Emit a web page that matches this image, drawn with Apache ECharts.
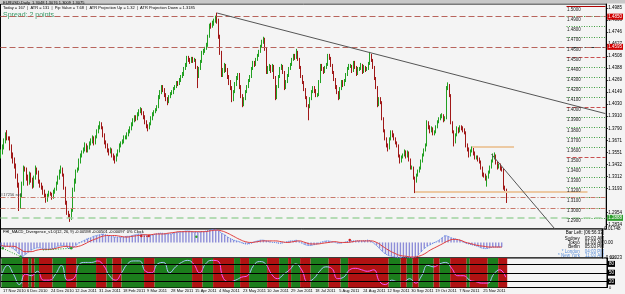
<!DOCTYPE html>
<html><head><meta charset="utf-8">
<script src="https://cdn.jsdelivr.net/npm/echarts@6/dist/echarts.min.js"></script>
<style>html,body{margin:0;padding:0;background:#f4f4f4}#c{width:625px;height:294px}</style>
</head><body><div id="c"></div>
<script>
// ---------- DATA ----------
const dateLabels = ['17 Nov 2010','6 Dec 2010','24 Dec 2010','12 Jan 2011','31 Jan 2011','18 Feb 2011','9 Mar 2011','28 Mar 2011','15 Apr 2011','4 May 2011','23 May 2011','10 Jun 2011','29 Jun 2011','18 Jul 2011','5 Aug 2011','24 Aug 2011','12 Sep 2011','30 Sep 2011','19 Oct 2011','7 Nov 2011','25 Nov 2011'];
const dateLabelFirstBar = 1, dateLabelEvery = 16, slotCount = 404;

const priceOpen = [1.3520,1.3550,1.3600,1.3660,1.3720,1.3700,1.3690,1.3600,1.3520,1.3480,
1.3420,1.3320,1.3230,1.3010,1.3120,1.3240,1.3400,1.3380,1.3300,1.3250,
1.3330,1.3280,1.3220,1.3300,1.3390,1.3350,1.3260,1.3230,1.3200,1.3160,
1.3120,1.3070,1.3120,1.3150,1.3130,1.3100,1.3160,1.3180,1.3240,1.3300,
1.3360,1.3390,1.3330,1.3200,1.3050,1.2950,1.2920,1.2890,1.2970,1.3180,
1.3260,1.3360,1.3380,1.3460,1.3520,1.3550,1.3580,1.3620,1.3570,1.3600,
1.3640,1.3660,1.3690,1.3650,1.3700,1.3760,1.3800,1.3840,1.3800,1.3720,
1.3650,1.3620,1.3570,1.3550,1.3580,1.3520,1.3500,1.3470,1.3520,1.3560,
1.3620,1.3640,1.3660,1.3700,1.3700,1.3730,1.3760,1.3790,1.3830,1.3870,
1.3900,1.3880,1.3930,1.3960,1.3970,1.3940,1.3900,1.3850,1.3810,1.3790,
1.3830,1.3890,1.3930,1.3950,1.3970,1.4000,1.4100,1.4150,1.4200,1.4170,
1.4120,1.4080,1.4050,1.4100,1.4130,1.4150,1.4180,1.4200,1.4240,1.4230,
1.4270,1.4300,1.4320,1.4380,1.4420,1.4490,1.4470,1.4450,1.4480,1.4460,
1.4470,1.4400,1.4300,1.4380,1.4450,1.4540,1.4560,1.4580,1.4610,1.4700,
1.4810,1.4800,1.4830,1.4850,1.4880,1.4860,1.4700,1.4540,1.4320,1.4360,
1.4410,1.4370,1.4300,1.4250,1.4190,1.4070,1.4150,1.4230,1.4290,1.4320,
1.4200,1.4110,1.4020,1.4080,1.4150,1.4200,1.4260,1.4300,1.4380,1.4440,
1.4420,1.4470,1.4510,1.4550,1.4600,1.4650,1.4680,1.4580,1.4350,1.4380,
1.4400,1.4360,1.4410,1.4300,1.4090,1.4200,1.4300,1.4380,1.4410,1.4350,
1.4190,1.4250,1.4310,1.4380,1.4420,1.4470,1.4510,1.4490,1.4540,1.4480,
1.4400,1.4310,1.4250,1.4180,1.4100,1.4020,1.4000,1.4080,1.4150,1.4190,
1.4160,1.4120,1.4120,1.4250,1.4410,1.4380,1.4350,1.4390,1.4420,1.4510,
1.4490,1.4420,1.4350,1.4280,1.4200,1.4150,1.4090,1.4180,1.4250,1.4220,
1.4260,1.4320,1.4380,1.4410,1.4410,1.4360,1.4440,1.4400,1.4330,1.4380,
1.4380,1.4420,1.4350,1.4400,1.4370,1.4380,1.4430,1.4510,1.4470,1.4400,
1.4290,1.4200,1.4020,1.4080,1.4050,1.3890,1.3770,1.3690,1.3620,1.3590,
1.3680,1.3750,1.3720,1.3690,1.3650,1.3620,1.3520,1.3460,1.3500,1.3520,
1.3560,1.3510,1.3550,1.3480,1.3400,1.3400,1.3300,1.3260,1.3320,1.3360,
1.3390,1.3460,1.3520,1.3570,1.3620,1.3850,1.3800,1.3760,1.3790,1.3740,
1.3750,1.3800,1.3850,1.3880,1.3910,1.3920,1.3870,1.3890,1.4190,1.4220,
1.4120,1.3850,1.3760,1.3650,1.3720,1.3790,1.3760,1.3800,1.3790,1.3770,
1.3750,1.3620,1.3580,1.3520,1.3560,1.3590,1.3540,1.3500,1.3500,1.3480,
1.3460,1.3400,1.3330,1.3320,1.3300,1.3300,1.3350,1.3400,1.3460,1.3500,
1.3520,1.3450,1.3400,1.3420,1.3390,1.3380,1.3200,1.3180];

const priceClose = [1.3550,1.3600,1.3660,1.3720,1.3700,1.3690,1.3600,1.3520,1.3480,1.3420,
1.3320,1.3230,1.3010,1.3120,1.3240,1.3400,1.3380,1.3300,1.3250,1.3330,
1.3280,1.3220,1.3300,1.3390,1.3350,1.3260,1.3230,1.3200,1.3160,1.3120,
1.3070,1.3120,1.3150,1.3130,1.3100,1.3160,1.3180,1.3240,1.3300,1.3360,
1.3390,1.3330,1.3200,1.3050,1.2950,1.2920,1.2890,1.2970,1.3180,1.3260,
1.3360,1.3380,1.3460,1.3520,1.3550,1.3580,1.3620,1.3570,1.3600,1.3640,
1.3660,1.3690,1.3650,1.3700,1.3760,1.3800,1.3840,1.3800,1.3720,1.3650,
1.3620,1.3570,1.3550,1.3580,1.3520,1.3500,1.3470,1.3520,1.3560,1.3620,
1.3640,1.3660,1.3700,1.3700,1.3730,1.3760,1.3790,1.3830,1.3870,1.3900,
1.3880,1.3930,1.3960,1.3970,1.3940,1.3900,1.3850,1.3810,1.3790,1.3830,
1.3890,1.3930,1.3950,1.3970,1.4000,1.4100,1.4150,1.4200,1.4170,1.4120,
1.4080,1.4050,1.4100,1.4130,1.4150,1.4180,1.4200,1.4240,1.4230,1.4270,
1.4300,1.4320,1.4380,1.4420,1.4490,1.4470,1.4450,1.4480,1.4460,1.4470,
1.4400,1.4300,1.4380,1.4450,1.4540,1.4560,1.4580,1.4610,1.4700,1.4810,
1.4800,1.4830,1.4850,1.4880,1.4860,1.4700,1.4540,1.4320,1.4360,1.4410,
1.4370,1.4300,1.4250,1.4190,1.4070,1.4150,1.4230,1.4290,1.4320,1.4200,
1.4110,1.4020,1.4080,1.4150,1.4200,1.4260,1.4300,1.4380,1.4440,1.4420,
1.4470,1.4510,1.4550,1.4600,1.4650,1.4680,1.4580,1.4350,1.4380,1.4400,
1.4360,1.4410,1.4300,1.4090,1.4200,1.4300,1.4380,1.4410,1.4350,1.4190,
1.4250,1.4310,1.4380,1.4420,1.4470,1.4510,1.4490,1.4540,1.4480,1.4400,
1.4310,1.4250,1.4180,1.4100,1.4020,1.4000,1.4080,1.4150,1.4190,1.4160,
1.4120,1.4120,1.4250,1.4410,1.4380,1.4350,1.4390,1.4420,1.4510,1.4490,
1.4420,1.4350,1.4280,1.4200,1.4150,1.4090,1.4180,1.4250,1.4220,1.4260,
1.4320,1.4380,1.4410,1.4410,1.4360,1.4440,1.4400,1.4330,1.4380,1.4380,
1.4420,1.4350,1.4400,1.4370,1.4380,1.4430,1.4510,1.4470,1.4400,1.4290,
1.4200,1.4020,1.4080,1.4050,1.3890,1.3770,1.3690,1.3620,1.3590,1.3680,
1.3750,1.3720,1.3690,1.3650,1.3620,1.3520,1.3460,1.3500,1.3520,1.3560,
1.3510,1.3550,1.3480,1.3400,1.3400,1.3300,1.3260,1.3320,1.3360,1.3390,
1.3460,1.3520,1.3570,1.3620,1.3850,1.3800,1.3760,1.3790,1.3740,1.3750,
1.3800,1.3850,1.3880,1.3910,1.3920,1.3870,1.3890,1.4190,1.4220,1.4120,
1.3850,1.3760,1.3650,1.3720,1.3790,1.3760,1.3800,1.3790,1.3770,1.3750,
1.3620,1.3580,1.3520,1.3560,1.3590,1.3540,1.3500,1.3500,1.3480,1.3460,
1.3400,1.3330,1.3320,1.3300,1.3300,1.3350,1.3400,1.3460,1.3500,1.3520,
1.3450,1.3400,1.3420,1.3390,1.3380,1.3200,1.3180,1.3075];

const priceLow = [1.3490,1.3530,1.3580,1.3640,1.3670,1.3670,1.3570,1.3490,1.3440,1.3390,
1.3290,1.3200,1.2968,1.2990,1.3100,1.3220,1.3360,1.3270,1.3220,1.3230,
1.3250,1.3190,1.3200,1.3280,1.3330,1.3240,1.3200,1.3180,1.3130,1.3100,
1.3050,1.3060,1.3110,1.3120,1.3080,1.3090,1.3140,1.3170,1.3230,1.3280,
1.3340,1.3310,1.3180,1.3030,1.2930,1.2900,1.2860,1.2880,1.2960,1.3160,
1.3240,1.3350,1.3370,1.3440,1.3500,1.3540,1.3560,1.3550,1.3550,1.3580,
1.3620,1.3640,1.3620,1.3630,1.3690,1.3740,1.3780,1.3780,1.3700,1.3630,
1.3590,1.3550,1.3520,1.3540,1.3500,1.3470,1.3440,1.3460,1.3510,1.3550,
1.3600,1.3630,1.3640,1.3680,1.3680,1.3710,1.3740,1.3770,1.3810,1.3850,
1.3860,1.3870,1.3910,1.3940,1.3920,1.3880,1.3830,1.3790,1.3760,1.3780,
1.3820,1.3870,1.3910,1.3940,1.3960,1.3990,1.4080,1.4130,1.4150,1.4100,
1.4060,1.4020,1.4040,1.4090,1.4120,1.4130,1.4170,1.4190,1.4210,1.4220,
1.4250,1.4290,1.4310,1.4370,1.4400,1.4450,1.4430,1.4440,1.4440,1.4450,
1.4380,1.4190,1.4290,1.4370,1.4440,1.4520,1.4540,1.4570,1.4600,1.4690,
1.4780,1.4790,1.4810,1.4840,1.4830,1.4680,1.4520,1.4300,1.4300,1.4340,
1.4350,1.4280,1.4220,1.4170,1.4050,1.4060,1.4140,1.4210,1.4270,1.4180,
1.4090,1.4000,1.4010,1.4070,1.4140,1.4190,1.4250,1.4290,1.4370,1.4400,
1.4410,1.4460,1.4500,1.4540,1.4590,1.4630,1.4560,1.4330,1.4330,1.4360,
1.4340,1.4350,1.4280,1.4070,1.4080,1.4190,1.4290,1.4370,1.4330,1.4170,
1.4180,1.4240,1.4300,1.4370,1.4410,1.4460,1.4470,1.4480,1.4460,1.4380,
1.4290,1.4230,1.4160,1.4080,1.4000,1.3870,1.3990,1.4070,1.4140,1.4140,
1.4100,1.4100,1.4110,1.4240,1.4360,1.4330,1.4340,1.4380,1.4410,1.4470,
1.4400,1.4330,1.4260,1.4180,1.4130,1.4070,1.4080,1.4170,1.4200,1.4210,
1.4250,1.4310,1.4370,1.4390,1.4340,1.4350,1.4380,1.4310,1.4320,1.4360,
1.4370,1.4330,1.4340,1.4350,1.4360,1.4370,1.4420,1.4450,1.4380,1.4270,
1.4180,1.4000,1.4010,1.4030,1.3870,1.3750,1.3670,1.3600,1.3560,1.3580,
1.3670,1.3700,1.3670,1.3630,1.3600,1.3500,1.3440,1.3450,1.3490,1.3510,
1.3490,1.3500,1.3460,1.3380,1.3380,1.3280,1.3146,1.3250,1.3310,1.3350,
1.3380,1.3450,1.3510,1.3560,1.3610,1.3780,1.3740,1.3750,1.3720,1.3720,
1.3740,1.3790,1.3840,1.3870,1.3890,1.3850,1.3860,1.3880,1.4170,1.4100,
1.3830,1.3740,1.3610,1.3640,1.3710,1.3740,1.3750,1.3770,1.3750,1.3730,
1.3600,1.3560,1.3500,1.3510,1.3550,1.3520,1.3480,1.3480,1.3460,1.3440,
1.3380,1.3310,1.3300,1.3270,1.3210,1.3290,1.3340,1.3390,1.3450,1.3480,
1.3430,1.3380,1.3390,1.3370,1.3360,1.3180,1.3160,1.3048];

const priceHigh = [1.3580,1.3630,1.3690,1.3750,1.3772,1.3710,1.3710,1.3630,1.3550,1.3500,
1.3440,1.3340,1.3250,1.3140,1.3260,1.3420,1.3410,1.3400,1.3330,1.3360,
1.3350,1.3300,1.3320,1.3420,1.3400,1.3370,1.3280,1.3250,1.3220,1.3180,
1.3140,1.3140,1.3170,1.3160,1.3150,1.3180,1.3200,1.3260,1.3320,1.3380,
1.3420,1.3400,1.3340,1.3210,1.3070,1.2970,1.2940,1.2990,1.3200,1.3290,
1.3380,1.3400,1.3490,1.3540,1.3570,1.3600,1.3650,1.3640,1.3620,1.3660,
1.3690,1.3720,1.3710,1.3720,1.3780,1.3820,1.3860,1.3850,1.3810,1.3740,
1.3670,1.3640,1.3590,1.3600,1.3590,1.3540,1.3520,1.3540,1.3580,1.3640,
1.3660,1.3680,1.3720,1.3720,1.3750,1.3780,1.3810,1.3850,1.3890,1.3920,
1.3920,1.3950,1.3980,1.4000,1.3990,1.3960,1.3920,1.3870,1.3830,1.3850,
1.3910,1.3950,1.3970,1.3990,1.4020,1.4120,1.4170,1.4220,1.4220,1.4190,
1.4140,1.4100,1.4120,1.4150,1.4170,1.4200,1.4220,1.4260,1.4260,1.4290,
1.4320,1.4350,1.4400,1.4440,1.4510,1.4510,1.4490,1.4500,1.4500,1.4490,
1.4480,1.4410,1.4400,1.4470,1.4560,1.4580,1.4600,1.4640,1.4720,1.4830,
1.4840,1.4860,1.4880,1.4910,1.4940,1.4880,1.4720,1.4560,1.4390,1.4440,
1.4430,1.4390,1.4320,1.4270,1.4210,1.4170,1.4250,1.4310,1.4340,1.4340,
1.4220,1.4130,1.4100,1.4170,1.4220,1.4280,1.4320,1.4400,1.4460,1.4460,
1.4490,1.4530,1.4570,1.4620,1.4670,1.4700,1.4690,1.4590,1.4410,1.4430,
1.4420,1.4430,1.4420,1.4310,1.4220,1.4320,1.4400,1.4430,1.4420,1.4360,
1.4270,1.4330,1.4400,1.4440,1.4490,1.4530,1.4530,1.4580,1.4560,1.4490,
1.4410,1.4320,1.4260,1.4190,1.4110,1.4030,1.4100,1.4170,1.4210,1.4210,
1.4180,1.4140,1.4270,1.4430,1.4430,1.4400,1.4410,1.4440,1.4530,1.4530,
1.4500,1.4430,1.4360,1.4290,1.4220,1.4160,1.4200,1.4270,1.4270,1.4280,
1.4340,1.4400,1.4430,1.4430,1.4420,1.4460,1.4460,1.4410,1.4400,1.4400,
1.4440,1.4430,1.4420,1.4410,1.4400,1.4450,1.4550,1.4530,1.4480,1.4410,
1.4300,1.4210,1.4100,1.4100,1.4060,1.3900,1.3780,1.3700,1.3640,1.3700,
1.3770,1.3770,1.3740,1.3700,1.3660,1.3630,1.3530,1.3520,1.3540,1.3580,
1.3570,1.3570,1.3560,1.3490,1.3420,1.3410,1.3310,1.3340,1.3380,1.3410,
1.3480,1.3540,1.3590,1.3640,1.3870,1.3860,1.3820,1.3810,1.3800,1.3770,
1.3820,1.3870,1.3900,1.3930,1.3940,1.3930,1.3910,1.4210,1.4247,1.4230,
1.4130,1.3860,1.3770,1.3740,1.3810,1.3800,1.3820,1.3820,1.3810,1.3790,
1.3760,1.3640,1.3600,1.3580,1.3610,1.3600,1.3560,1.3520,1.3520,1.3500,
1.3470,1.3410,1.3350,1.3340,1.3320,1.3370,1.3420,1.3480,1.3540,1.3550,
1.3530,1.3460,1.3440,1.3440,1.3410,1.3390,1.3220,1.3190];

// MACD histogram (one value every 2 bars), signal (every 4 bars)
const macdHist = [-0.005,-0.006,-0.005,-0.006,-0.008,-0.011,-0.015,-0.019,
-0.016,-0.013,-0.010,-0.008,-0.007,-0.007,-0.008,-0.009,-0.009,-0.008,-0.007,-0.005,-0.004,-0.004,-0.006,-0.008,-0.007,-0.004,
-0.001,0.001,0.003,0.005,0.006,0.008,0.009,0.010,0.011,0.010,0.009,0.008,0.007,0.007,0.007,0.007,0.008,0.008,0.009,0.010,0.011,0.011,0.010,0.009,
0.009,0.010,0.011,0.012,0.012,0.011,0.011,0.011,0.012,0.013,0.013,0.014,0.015,0.015,0.014,0.013,0.013,0.014,0.014,0.015,0.016,0.017,0.017,
0.015,0.012,0.010,0.007,0.005,0.003,0.002,0.001,-0.001,-0.002,-0.002,-0.001,0.001,0.002,0.003,0.003,0.002,0.001,0.000,0.000,-0.001,-0.001,0.000,0.001,0.002,0.002,0.003,0.001,
-0.001,-0.003,-0.004,-0.004,-0.003,-0.002,0.000,0.001,0.002,0.002,0.001,0.000,-0.001,-0.001,0.000,0.001,0.002,0.002,0.002,0.002,0.002,0.002,0.003,0.002,-0.001,
-0.004,-0.008,-0.012,-0.015,-0.017,-0.018,-0.019,-0.020,-0.020,-0.019,-0.019,-0.020,-0.020,-0.019,-0.016,-0.012,-0.008,-0.005,-0.003,-0.001,0.001,0.003,0.006,0.009,
0.008,0.006,0.005,0.004,0.003,0.001,-0.001,-0.002,-0.003,-0.004,-0.005,-0.007,-0.008,-0.008,-0.007,-0.006,-0.006,-0.006,-0.006];
const macdSignal = [-0.004,-0.005,-0.005,-0.008,-0.012,-0.012,-0.010,-0.009,-0.009,-0.008,
-0.006,-0.005,-0.006,-0.005,-0.002,0.002,0.005,0.008,0.009,0.009,
0.008,0.007,0.008,0.009,0.010,0.010,0.011,0.011,0.012,0.013,
0.014,0.014,0.014,0.014,0.014,0.015,0.016,0.015,0.012,0.008,
0.004,0.001,0.000,0.001,0.002,0.002,0.002,0.001,0.000,0.001,
0.002,0.000,-0.002,-0.002,-0.001,0.000,0.001,0.000,0.000,0.001,
0.002,0.002,0.002,0.000,-0.005,-0.010,-0.014,-0.017,-0.018,-0.019,
-0.018,-0.015,-0.010,-0.006,-0.002,0.002,0.004,0.003,0.000,-0.002,
-0.004,-0.005,-0.006,-0.006,-0.006];
const macdTicks = [0.01748, 0, -0.02023];
// divergence links drawn on the MACD panel: [[bar, value], [bar, value]]
const bullDivergences = [[[1, -0.0076], [13, -0.0185]], [[28, -0.0098], [47, -0.0076]]];
const bearDivergences = [[[94, 0.0084], [99, 0.0084]]];
const bullMarks = [[1, -0.0076], [13, -0.0185], [47, -0.0076], [131, 0.0075]];
const bearMarks = [[94, 0.0084], [99, 0.0084], [234, 0.0032]];

// Stochastic (one value every 4 bars) and its trend bands [fromBar, toBar, state]
const stochMain = [40,75,45,10,45,40,55,25,25,45,75,25,30,80,85,85,90,75,40,25,
50,80,90,90,55,50,80,85,50,70,85,92,80,50,80,92,90,30,20,25,
35,40,75,88,80,45,30,45,60,80,60,20,30,55,70,65,30,35,60,65,
60,55,60,20,10,25,20,20,30,15,40,75,70,80,85,65,40,40,25,20,
15,15,45,60,35];
const stochBands = [[0,14,'up'],[14,18,'down'],[18,20,'up'],[20,22,'down'],[22,25,'up'],[25,34,'down'],[34,43,'up'],[43,50,'down'],[50,63,'up'],[63,70,'down'],[70,74,'up'],[74,80,'down'],[80,95,'up'],[95,102,'down'],[102,127,'up'],[127,134,'down'],[134,141,'up'],[141,155,'down'],[155,159,'up'],[159,165,'down'],[165,177,'up'],[177,185,'down'],[185,191,'up'],[191,193,'down'],[193,199,'up'],[199,206,'down'],[206,218,'up'],[218,226,'down'],[226,231,'up'],[231,258,'down'],[258,266,'up'],[266,270,'down'],[270,274,'up'],[274,278,'down'],[278,288,'up'],[288,292,'down'],[292,299,'up'],[299,310,'down'],[310,312,'up'],[312,324,'down'],[324,331,'up'],[331,337,'down']];
const stochLevels = [80, 50, 20];

// Price axis ticks and drawn objects
const priceTicks = [1.4985,1.4866,1.4746,1.4627,1.4508,1.4388,1.4269,1.4149,1.4030,1.3910,1.3790,1.3671,1.3551,1.3432,1.3312,1.3193,1.2954,1.2834];
const gridLevels = [1.50,1.49,1.48,1.47,1.46,1.45,1.44,1.43,1.42,1.41,1.40,1.39,1.38,1.37,1.36,1.35,1.34,1.33,1.32,1.31,1.30,1.29];
const gridLevelFromBar = 377;
const redBoxLines = [1.4850, 1.4595];
const orderLines = [1.3127, 1.2993];
const greenLine = 1.2880;
const lastPrice = 1.3075;
const resistanceSeg = [314, 342, 1.3607];
const supportSeg = [276, 391, 1.3160];
const trendA = [[144, 1.4936], [403, 1.3936]];
const trendB = [[327, 1.3532], [369, 1.2794]];

// ---------- CHART ----------
const F = 'Liberation Sans';
const cats = Array.from({length: slotCount}, (_, i) => i);
const candles = priceOpen.map((o, i) => [o, priceClose[i], priceLow[i], priceHigh[i]]);
const histData = macdHist.map((v, k) => [k * 2, v]);
const sigData = macdSignal.map((v, k) => [k * 4, v]);
const stochData = stochMain.map((v, k) => [k * 4, v]);

const ml = [];
gridLevels.forEach(p => {
  const key = p.toFixed(4);
  let ls = {color: '#3f9f3f', type: [1, 1.5], width: 1};
  if ([1.45, 1.40, 1.35].includes(p)) ls = {color: '#c85050', type: [4, 2], width: 1};
  if (p === 1.46) ls = {color: '#333', type: [4, 2], width: 1};
  if (p === 1.50) ls = {color: '#b00000', type: 'solid', width: 1};
  ml.push([{coord: [gridLevelFromBar, p], lineStyle: ls,
    label: {show: true, position: 'insideStartBottom', formatter: key, fontSize: 4.5, fontFamily: F, color: '#222', distance: 0.5}},
    {coord: [slotCount - 1, p]}]);
});
redBoxLines.forEach(p => ml.push({yAxis: p, lineStyle: {color: '#b8645c', type: [6, 3], width: 1},
  label: {show: true, position: 'end', formatter: p.toFixed(4), backgroundColor: '#d00000', color: '#fff', fontSize: 4.5, fontFamily: F, padding: [0.5, 1], distance: 1}}));
orderLines.forEach((p, i) => ml.push({yAxis: p, lineStyle: {color: '#c8786a', type: [5, 2, 1, 2], width: 1},
  label: {show: i === 0, position: 'insideStartTop', formatter: '#17256 sell', fontSize: 4, fontFamily: F, color: '#444', distance: 0.5}}));
ml.push({yAxis: greenLine, lineStyle: {color: '#9fd29f', type: [7, 4], width: 1.5},
  label: {show: true, position: 'end', formatter: '1.2888', backgroundColor: '#2e9e2e', color: '#fff', fontSize: 4.5, fontFamily: F, padding: [0.5, 1], distance: 1}});
ml.push({yAxis: lastPrice, lineStyle: {opacity: 0},
  label: {show: true, position: 'end', formatter: lastPrice.toFixed(4), backgroundColor: '#000', color: '#fff', fontSize: 4.5, fontFamily: F, padding: [0.5, 1], distance: 1}});
[resistanceSeg, supportSeg].forEach(s => ml.push([{coord: [s[0], s[2]], lineStyle: {color: '#ecc9a2', width: 2, type: 'solid'}, label: {show: false}}, {coord: [s[1], s[2]]}]));
[trendA, trendB].forEach(t => ml.push([{coord: t[0], lineStyle: {color: '#555', width: 1, type: 'solid'}, label: {show: false}}, {coord: t[1]}]));

const macdML = bullDivergences.map(d => [{coord: d[0], lineStyle: {color: '#2e9e2e', type: [1, 1.5], width: 1}}, {coord: d[1]}])
  .concat(bearDivergences.map(d => [{coord: d[0], lineStyle: {color: '#d02020', type: [1, 1.5], width: 1}}, {coord: d[1]}]));
const macdMP = bullMarks.map(c => ({coord: c, itemStyle: {color: '#2e9e2e'}}))
  .concat(bearMarks.map(c => ({coord: c, itemStyle: {color: '#d02020'}})));

const stochML = stochLevels.map(v => ({yAxis: v, lineStyle: {color: '#000', width: 1, type: 'solid'},
  label: {show: true, position: 'end', formatter: String(v), backgroundColor: '#000', color: '#fff', fontSize: 4.5, fontFamily: F, padding: [0.5, 1], distance: 1}}));

const bandColor = {up: '#1c7d1c', down: '#b01212'};
const lineColor = {up: '#a8c4ff', down: '#ff50ff'};

const axisCommon = (gi, showLabel) => ({
  type: 'category', data: cats, gridIndex: gi, boundaryGap: true,
  axisLine: {show: false}, axisTick: {show: false}, splitLine: {show: false},
  axisLabel: showLabel ? {
    show: true, align: 'left', fontSize: 4, fontFamily: F, color: '#000', margin: 1.5,
    interval: (i) => i >= dateLabelFirstBar && (i - dateLabelFirstBar) % dateLabelEvery === 0 && (i - dateLabelFirstBar) / dateLabelEvery < dateLabels.length,
    formatter: (v) => dateLabels[(Number(v) - dateLabelFirstBar) / dateLabelEvery] || ''
  } : {show: false}
});

const txt = (text, x, y, size, fill, align) => ({type: 'text', x: x, y: y, silent: true,
  style: {text: text, font: size + 'px ' + F, fill: fill || '#000', align: align || 'left', verticalAlign: 'top'}});

const option = {
  animation: false,
  backgroundColor: '#f4f4f4',
  grid: [
    {left: 0.5, right: 18, top: 4, height: 225, show: true, backgroundColor: '#f4f4f4', borderColor: '#000', borderWidth: 1},
    {left: 0.5, right: 18, top: 229, height: 29, show: true, backgroundColor: '#f4f4f4', borderColor: '#000', borderWidth: 1},
    {left: 0.5, right: 18, top: 258, height: 29.5, show: true, backgroundColor: '#f4f4f4', borderColor: '#000', borderWidth: 1}
  ],
  xAxis: [axisCommon(0, false), axisCommon(1, false), axisCommon(2, true)],
  yAxis: [
    {type: 'value', gridIndex: 0, position: 'right', min: 1.27892, max: 1.50258, splitLine: {show: false},
     axisLine: {show: true, lineStyle: {color: '#000'}}, axisTick: {show: true, length: 1.5, customValues: priceTicks, lineStyle: {color: '#000'}},
     axisLabel: {customValues: priceTicks, fontSize: 4.5, fontFamily: F, color: '#000', margin: 2, formatter: v => v.toFixed(4)}},
    {type: 'value', gridIndex: 1, position: 'right', min: -0.02023, max: 0.01748, splitLine: {show: false},
     axisLine: {show: true, lineStyle: {color: '#000'}}, axisTick: {show: false},
     axisLabel: {customValues: macdTicks, fontSize: 4.5, fontFamily: F, color: '#000', margin: 2, formatter: v => v === 0 ? '0.00' : v.toFixed(5)}},
    {type: 'value', gridIndex: 2, position: 'right', min: 0, max: 100, splitLine: {show: false},
     axisLine: {show: true, lineStyle: {color: '#000'}}, axisTick: {show: false},
     axisLabel: {customValues: [100, 0], fontSize: 4, fontFamily: F, color: '#000', margin: 2}}
  ],
  visualMap: [{type: 'piecewise', show: false, seriesIndex: 4, dimension: 0,
    pieces: stochBands.map(b => ({gte: b[0], lt: b[1] + 0.001, color: lineColor[b[2]]})),
    outOfRange: {color: lineColor.down}}],
  series: [
    {type: 'candlestick', xAxisIndex: 0, yAxisIndex: 0, data: candles, barWidth: 1,
     itemStyle: {color: '#22a022', color0: '#a01818', borderColor: '#22a022', borderColor0: '#a01818', borderWidth: 1},
     markLine: {silent: true, symbol: 'none', animation: false, data: ml}},
    {type: 'bar', xAxisIndex: 1, yAxisIndex: 1, data: histData, barWidth: 1.4, itemStyle: {color: '#8e8ed8'},
     markLine: {silent: true, symbol: 'none', label: {show: false}, data: macdML},
     markPoint: {silent: true, symbol: 'circle', symbolSize: 2.5, label: {show: false}, data: macdMP}},
    {type: 'line', xAxisIndex: 1, yAxisIndex: 1, data: histData, symbol: 'none', lineStyle: {color: '#4f7fe8', width: 1, type: 'dotted'}},
    {type: 'line', xAxisIndex: 1, yAxisIndex: 1, data: sigData, symbol: 'none', smooth: true, lineStyle: {color: '#e03a3a', width: 1}},
    {type: 'line', xAxisIndex: 2, yAxisIndex: 2, data: stochData, symbol: 'none', smooth: true, lineStyle: {width: 1},
     markArea: {silent: true, data: stochBands.map(b => [{xAxis: b[0], itemStyle: {color: bandColor[b[2]]}}, {xAxis: b[1]}])},
     markLine: {silent: true, symbol: 'none', data: stochML}}
  ],
  graphic: [
    {type: 'rect', shape: {x: 0, y: 0, width: 625, height: 3.5}, style: {fill: '#c8c8c8'}, silent: true},
    txt('EURUSD,Daily  1.3048 1.3076 1.3009 1.3075', 3, 1, 4),
    txt('Today = 167  |  ATR = 131  |  Pip Value = 7.68  |  ATR Projection Up = 1.32  |  ATR Projection Down = 1.3185', 3, 6, 4),
    txt('Spread: 2 points.', 3, 11.5, 7, '#3a9a68'),
    txt('FHI_MACD_Divergence_v1.0(12, 26, 9) -0.00598 -0.00501 -0.00097  0% Clock', 3, 229.8, 4),
    txt('Bar Left: [06:56:33]', 604, 230.5, 4.5, '#000', 'right'),
    txt('Sydney    03:03 AM', 604, 236.3, 4.5, '#000', 'right'),
    txt('Tokyo    01:03 AM', 604, 240.5, 4.5, '#000', 'right'),
    txt('Berlin    05:03 PM', 604, 244.7, 4.5, '#000', 'right'),
    txt('* London    04:03 PM', 604, 249, 4.5, '#5b8fd8', 'right'),
    txt('* New York    11:03 AM', 604, 253.2, 4.5, '#5b8fd8', 'right'),
    txt('Stochastic(14,3,3)', 3, 261.5, 4, '#222'),
    txt('FHI_Stochastic_Dom', 3, 282.5, 4, '#222')
  ]
};
const chart = echarts.init(document.getElementById('c'), null, {renderer: 'canvas'});
chart.setOption(option);
</script></body></html>
